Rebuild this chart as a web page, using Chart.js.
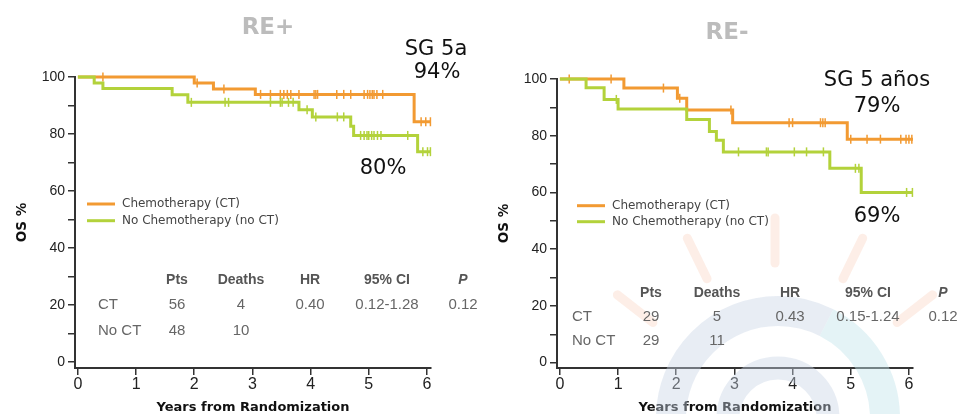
<!DOCTYPE html>
<html lang="es">

<head>
    <meta charset="UTF-8">
    <title>OS por RE</title>
    <style>
        body {
            margin: 0;
            width: 960px;
            height: 414px;
            overflow: hidden;
            background: #fff;
            position: relative;
        }

        .panel {
            position: absolute;
            top: 0;
            width: 480px;
            height: 414px;
        }

        #leftPanel {
            left: 0;
        }

        #rightPanel {
            left: 482px;
        }
    </style>
    <script src="https://cdn.jsdelivr.net/npm/chart.js"></script>
</head>

<body>
    <div class="panel" id="leftPanel"><canvas id="chartLeft" width="480" height="414"></canvas></div>
    <div class="panel" id="rightPanel"><canvas id="chartRight" width="480" height="414"></canvas></div>

    <script>
        // labels
        const seriesLabels = ['Chemotherapy (CT)', 'No Chemotherapy (no CT)'];
        const xTicks = [0, 1, 2, 3, 4, 5, 6];
        const yTicks = [0, 10, 20, 30, 40, 50, 60, 70, 80, 90, 100];
        const yLabelTicks = [0, 20, 40, 60, 80, 100];
        const tableHeaders = ['Pts', 'Deaths', 'HR', '95% CI', 'P'];

        // RE+ curves (years, OS %)
        const rePlusCtTimes = [0, 2.0, 2.33, 3.05, 5.78, 6.07];
        const rePlusCtSurv = [100, 97.9, 95.8, 93.9, 84.3, 84.3];
        const rePlusCtCensor = [0.43, 2.05, 2.51, 3.14, 3.31, 3.48, 3.54, 3.60, 3.66, 3.80, 4.06, 4.09, 4.12,
            4.45, 4.57, 4.69, 4.92, 4.98, 5.02, 5.06, 5.09, 5.14, 5.24, 5.90, 5.98, 6.06];
        const rePlusNoCtTimes = [0, 0.28, 0.43, 1.62, 1.89, 3.80, 4.03, 4.69, 4.74, 5.84, 6.07];
        const rePlusNoCtSurv = [100, 97.9, 96.0, 93.8, 91.1, 88.5, 86.0, 82.7, 79.5, 73.8, 73.8];
        const rePlusNoCtCensor = [1.95, 2.53, 2.59, 3.31, 3.48, 3.51, 3.62, 3.70, 3.94, 4.09, 4.46, 4.57,
            4.86, 4.92, 4.97, 5.00, 5.05, 5.09, 5.15, 5.21, 5.67, 5.93, 6.01, 6.06];
        const rePlusNotes = ['SG 5a', '94%', '80%'];
        const rePlusTable = [
            ['CT', '56', '4', '0.40', '0.12-1.28', '0.12'],
            ['No CT', '48', '10', '', '', '']
        ];

        // RE- curves
        const reMinusCtTimes = [0, 1.10, 2.02, 2.18, 2.97, 4.94, 6.07];
        const reMinusCtSurv = [100, 96.8, 93.2, 89.1, 84.6, 78.8, 78.8];
        const reMinusCtCensor = [0.16, 0.88, 1.78, 2.06, 2.94, 3.94, 4.00, 4.48, 4.52, 4.56, 5.00, 5.28, 5.51,
            5.86, 5.95, 6.00, 6.05];
        const reMinusNoCtTimes = [0, 0.45, 0.76, 1.0, 2.18, 2.57, 2.69, 2.81, 4.64, 5.18, 6.07];
        const reMinusNoCtSurv = [100, 96.9, 92.8, 89.4, 85.7, 81.5, 78.4, 74.3, 68.5, 60.0, 60.0];
        const reMinusNoCtCensor = [0.97, 3.07, 3.55, 3.58, 4.03, 4.24, 4.53, 5.08, 5.14, 5.96, 6.06];
        const reMinusNotes = ['SG 5 años', '79%', '69%'];
        const reMinusTable = [
            ['CT', '29', '5', '0.43', '0.15-1.24', '0.12'],
            ['No CT', '29', '11', '', '', '']
        ];

        const colors = ['#f29a32', '#b3d23b'];
        const axisColor = '#333';

        // posiciones de textos (pixeles del canvas)
        const leftLayout = {
            top: 77, yMin: -2.1,
            title: { text: 'RE+', x: 268, y: 28 },
            notes: [[436, 50], [437, 73], [383, 169]],
            legend: { x: 87, y: 204, gap: 16.7 },
            table: { cols: [177, 241, 310, 387, 463], labelX: 98, rows: [280, 305, 331] },
            watermark: null
        };
        const rightLayout = {
            top: 79, yMin: -1.9,
            title: { text: 'RE-', x: 245, y: 33 },
            notes: [[395, 81], [395, 107], [395, 217]],
            legend: { x: 95, y: 205.7, gap: 16 },
            table: { cols: [169, 235, 308, 386, 461], labelX: 90, rows: [293, 317, 341] },
            watermark: { x: 296, y: 418 }
        };

        function survivalAt(times, surv, t) {
            let s = surv[0];
            for (let i = 0; i < times.length; i++) {
                if (times[i] <= t) s = surv[i];
            }
            return s;
        }

        function curveSet(times, surv, color) {
            return {
                data: times.map((t, i) => ({ x: t, y: surv[i] })),
                stepped: true,
                borderColor: color,
                borderWidth: 3,
                pointRadius: 0,
                fill: false,
                clip: false
            };
        }

        function censorSet(censor, times, surv, color) {
            return {
                data: censor.map(t => ({ x: t, y: survivalAt(times, surv, t) })),
                showLine: false,
                pointStyle: 'line',
                pointRotation: 90,
                pointRadius: 4.5,
                pointBorderWidth: 1.5,
                pointBorderColor: color,
                borderColor: color,
                clip: false
            };
        }

        function text(ctx, str, x, y, font, color, align) {
            ctx.save();
            ctx.font = font;
            ctx.fillStyle = color;
            ctx.textAlign = align || 'center';
            ctx.textBaseline = 'middle';
            ctx.fillText(str, x, y);
            ctx.restore();
        }

        // logo de fondo, muy tenue
        function drawWatermark(ctx, w) {
            ctx.save();
            ctx.strokeStyle = 'rgba(250, 200, 175, 0.3)';
            ctx.lineWidth = 9;
            ctx.lineCap = 'round';
            for (const deg of [-52, -26, 0, 26, 52]) {
                const a = deg * Math.PI / 180;
                ctx.beginPath();
                ctx.moveTo(w.x - 3 + Math.sin(a) * 155, w.y - Math.cos(a) * 155);
                ctx.lineTo(w.x - 3 + Math.sin(a) * 200, w.y - Math.cos(a) * 200);
                ctx.stroke();
            }
            ctx.lineCap = 'butt';
            ctx.lineWidth = 30;
            ctx.strokeStyle = 'rgba(200, 212, 228, 0.42)';
            ctx.beginPath();
            ctx.arc(w.x, w.y, 107, Math.PI, Math.PI * 1.65);
            ctx.stroke();
            ctx.strokeStyle = 'rgba(195, 228, 236, 0.45)';
            ctx.beginPath();
            ctx.arc(w.x, w.y, 107, Math.PI * 1.65, Math.PI * 2);
            ctx.stroke();
            ctx.lineWidth = 23;
            ctx.strokeStyle = 'rgba(200, 212, 228, 0.42)';
            ctx.beginPath();
            ctx.arc(w.x, w.y, 50, Math.PI, Math.PI * 2);
            ctx.stroke();
            ctx.restore();
        }

        function makeChart(id, sets, notes, tableRows, L) {
            const overlay = {
                id: 'overlay',
                beforeDatasetsDraw(chart) {
                    if (L.watermark) drawWatermark(chart.ctx, L.watermark);
                },
                afterDraw(chart) {
                    const ctx = chart.ctx;
                    text(ctx, L.title.text, L.title.x, L.title.y, 'bold 23px "DejaVu Sans"', '#bcbcbc');
                    notes.forEach((n, i) => {
                        text(ctx, n, L.notes[i][0], L.notes[i][1], '21px "DejaVu Sans"', '#111');
                    });
                    // leyenda
                    seriesLabels.forEach((lab, i) => {
                        const y = L.legend.y + i * L.legend.gap;
                        ctx.save();
                        ctx.strokeStyle = colors[i];
                        ctx.lineWidth = 3;
                        ctx.beginPath();
                        ctx.moveTo(L.legend.x, y);
                        ctx.lineTo(L.legend.x + 28, y);
                        ctx.stroke();
                        ctx.restore();
                        text(ctx, lab, L.legend.x + 35, y, '12px "DejaVu Sans"', '#444', 'left');
                    });
                    // tabla
                    const T = L.table;
                    tableHeaders.forEach((h, i) => {
                        const f = h === 'P' ? 'italic bold 14px "Liberation Sans"' : 'bold 14px "Liberation Sans"';
                        text(ctx, h, T.cols[i], T.rows[0], f, '#555');
                    });
                    tableRows.forEach((row, r) => {
                        text(ctx, row[0], T.labelX, T.rows[r + 1], '15px "Liberation Sans"', '#666', 'left');
                        row.slice(1).forEach((v, i) => {
                            text(ctx, v, T.cols[i], T.rows[r + 1], '15px "Liberation Sans"', '#666');
                        });
                    });
                }
            };

            const gridOpts = {
                drawOnChartArea: false,
                drawTicks: true,
                tickLength: 7,
                color: axisColor,
                lineWidth: 1.5
            };

            return new Chart(document.getElementById(id), {
                type: 'line',
                data: { datasets: sets },
                options: {
                    responsive: false,
                    animation: false,
                    layout: { padding: { top: L.top, right: 49, bottom: 0, left: 0 } },
                    plugins: {
                        legend: { display: false },
                        tooltip: { enabled: false }
                    },
                    scales: {
                        x: {
                            type: 'linear',
                            min: -0.05,
                            max: 6.07,
                            afterBuildTicks: s => { s.ticks = xTicks.map(v => ({ value: v })); },
                            afterFit: s => { s.height = 46; },
                            grid: gridOpts,
                            border: { display: true, color: axisColor, width: 2 },
                            ticks: {
                                autoSkip: false,
                                maxRotation: 0,
                                padding: 0,
                                color: '#222',
                                font: { family: 'Liberation Sans', size: 16 }
                            },
                            title: {
                                display: true,
                                text: 'Years from Randomization',
                                color: '#111',
                                font: { family: 'DejaVu Sans', size: 13, weight: 'bold' },
                                padding: { top: 0, bottom: -1 }
                            }
                        },
                        y: {
                            min: L.yMin,
                            max: 100,
                            afterBuildTicks: s => { s.ticks = yTicks.map(v => ({ value: v })); },
                            afterFit: s => { s.width = 75; },
                            grid: gridOpts,
                            border: { display: true, color: axisColor, width: 2 },
                            ticks: {
                                padding: 3,
                                color: '#222',
                                font: { family: 'Liberation Sans', size: 14 },
                                callback: v => yLabelTicks.includes(v) ? String(v) : ''
                            },
                            title: {
                                display: true,
                                text: 'OS %',
                                color: '#111',
                                font: { family: 'DejaVu Sans', size: 13.5, weight: 'bold' },
                                padding: { top: 14, bottom: 0 }
                            }
                        }
                    }
                },
                plugins: [overlay]
            });
        }

        makeChart('chartLeft', [
            curveSet(rePlusNoCtTimes, rePlusNoCtSurv, colors[1]),
            censorSet(rePlusNoCtCensor, rePlusNoCtTimes, rePlusNoCtSurv, colors[1]),
            curveSet(rePlusCtTimes, rePlusCtSurv, colors[0]),
            censorSet(rePlusCtCensor, rePlusCtTimes, rePlusCtSurv, colors[0])
        ], rePlusNotes, rePlusTable, leftLayout);

        makeChart('chartRight', [
            curveSet(reMinusNoCtTimes, reMinusNoCtSurv, colors[1]),
            censorSet(reMinusNoCtCensor, reMinusNoCtTimes, reMinusNoCtSurv, colors[1]),
            curveSet(reMinusCtTimes, reMinusCtSurv, colors[0]),
            censorSet(reMinusCtCensor, reMinusCtTimes, reMinusCtSurv, colors[0])
        ], reMinusNotes, reMinusTable, rightLayout);
    </script>
</body>

</html>
